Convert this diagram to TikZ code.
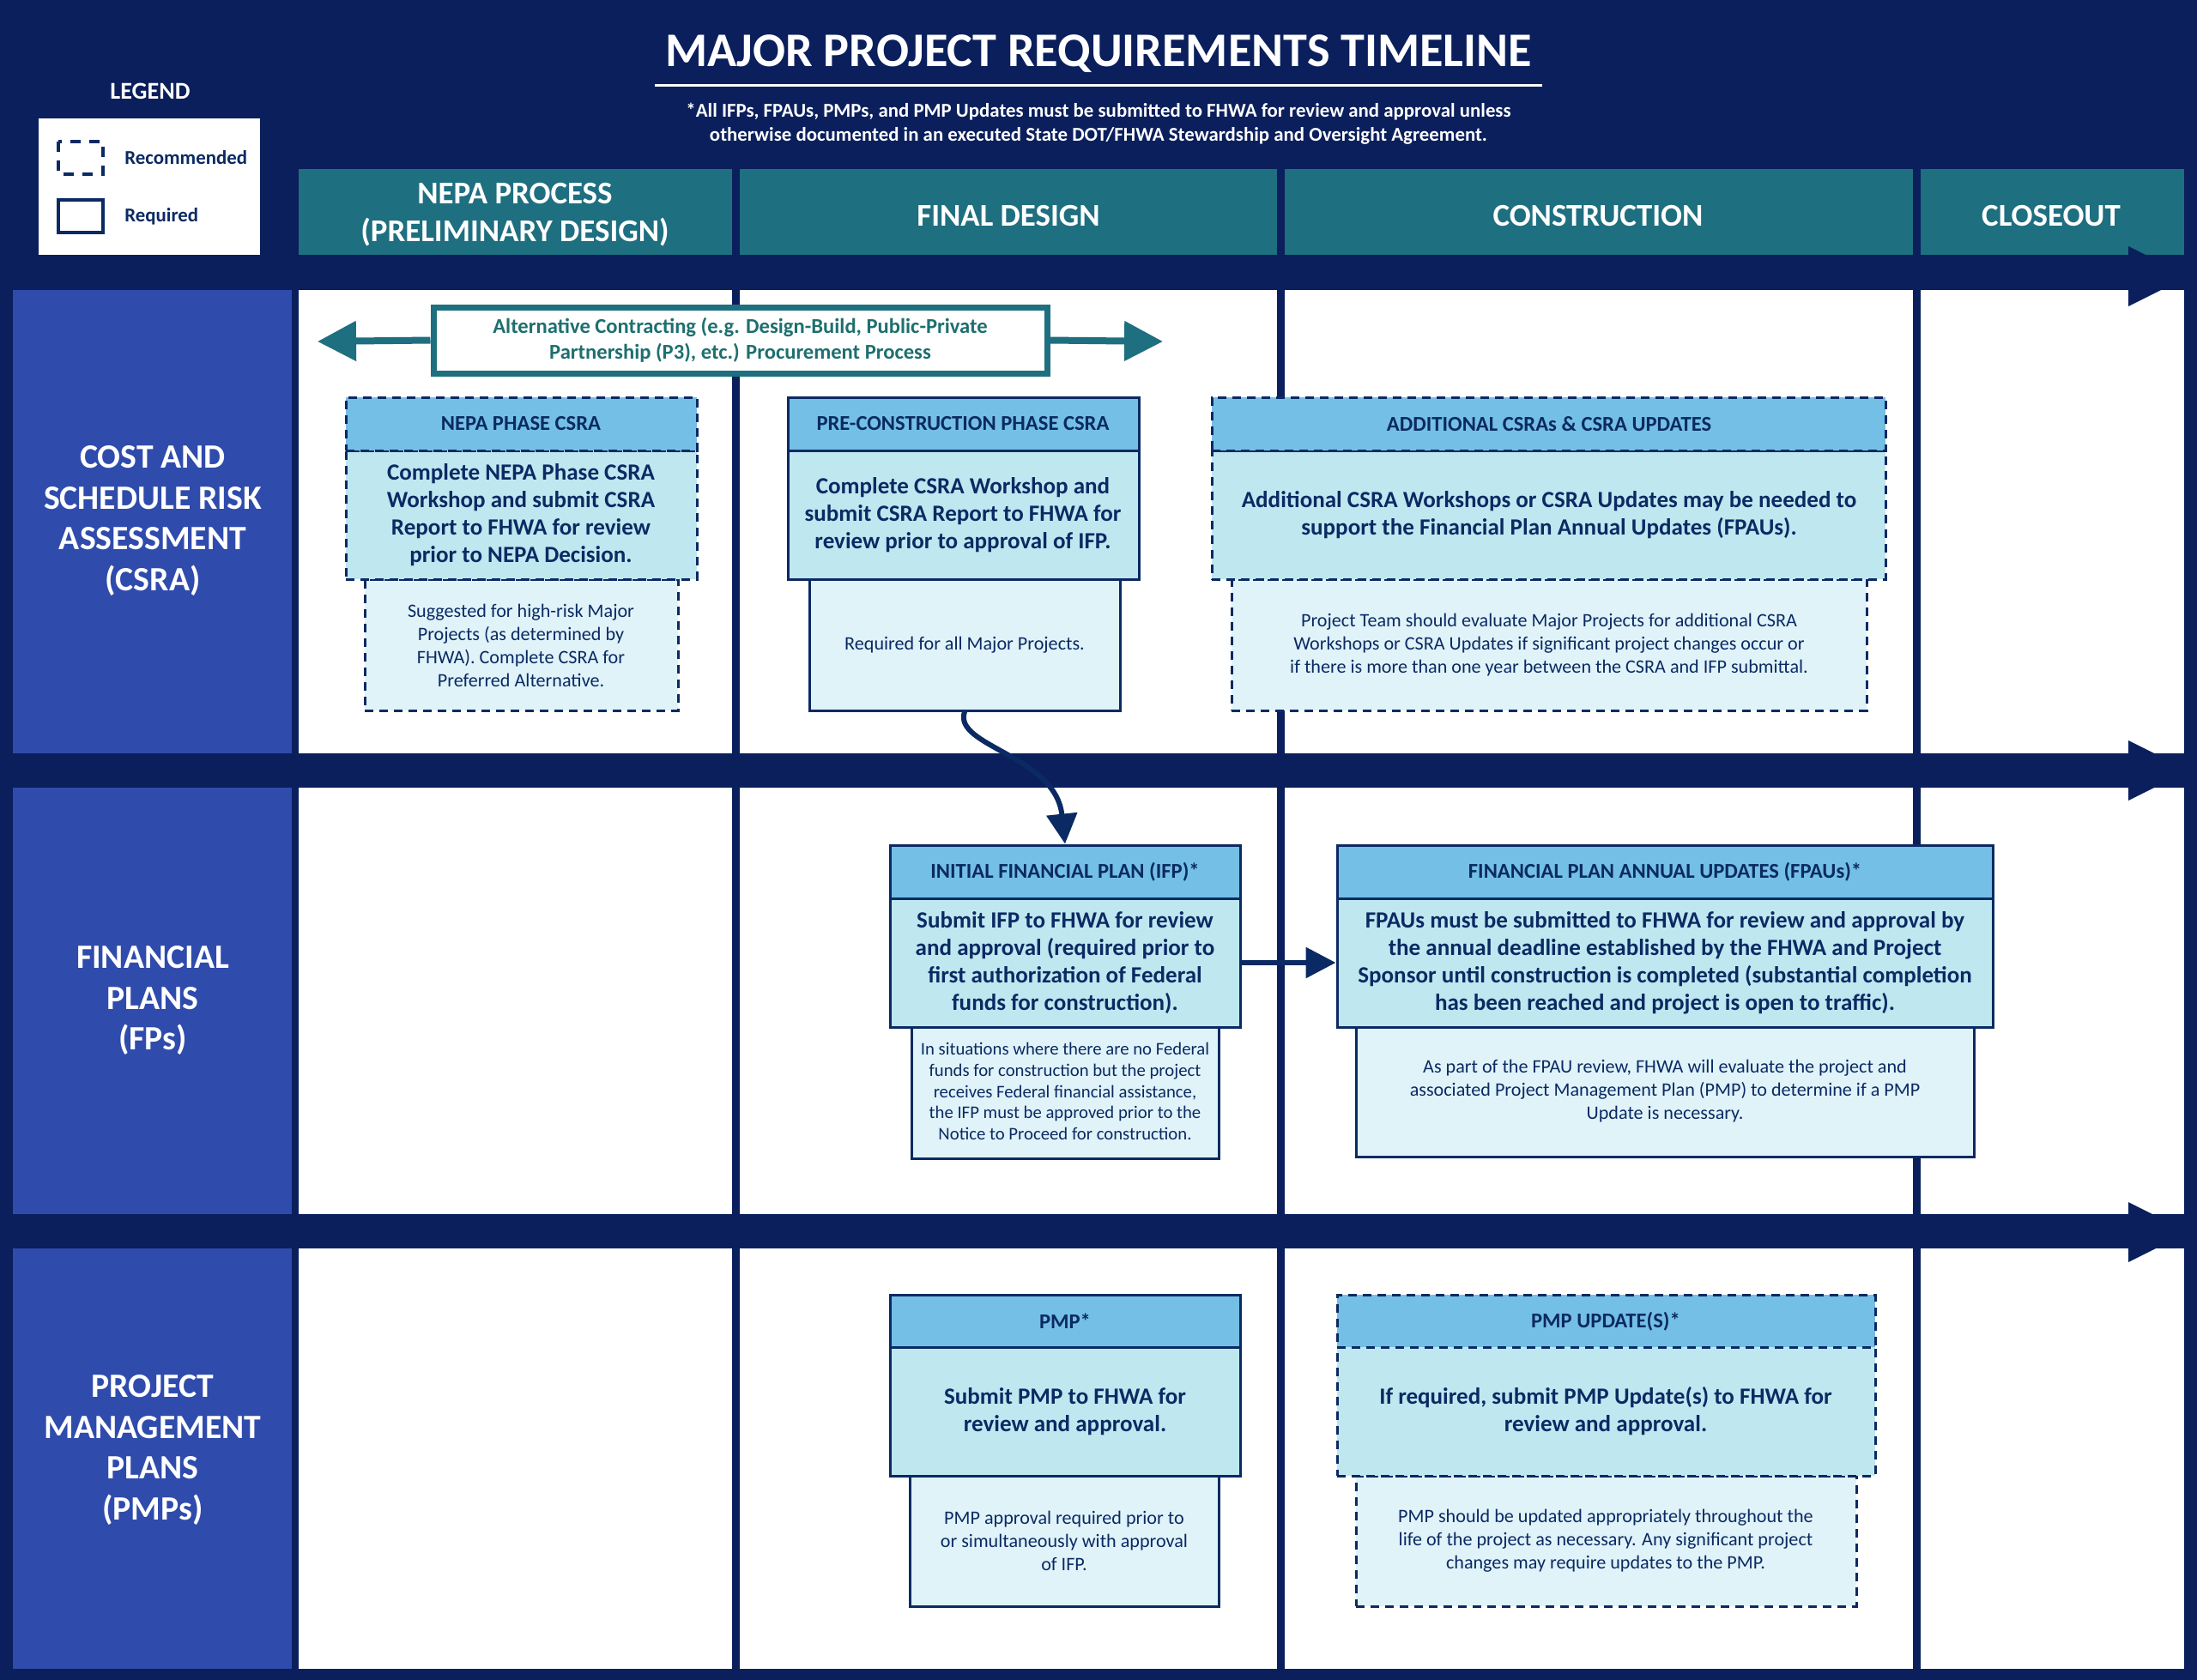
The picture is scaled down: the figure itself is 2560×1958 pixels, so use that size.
\documentclass[tikz,border=0pt]{standalone}
\usepackage{fontspec}
\setmainfont{Carlito}
\usetikzlibrary{fit,arrows.meta}
\definecolor{navy}{HTML}{0A1F5C}
\definecolor{teal}{HTML}{1E6F80}
\definecolor{rowblue}{HTML}{2F4BAC}
\definecolor{bord}{HTML}{0B2A63}
\definecolor{hdrc}{HTML}{74BFE6}
\definecolor{bodyc}{HTML}{BFE7F0}
\definecolor{notec}{HTML}{E0F3F9}
\definecolor{tealtxt}{HTML}{1E6F6F}
\tikzset{
 bx/.style={draw=bord,line width=0.3mm,inner sep=0pt,align=center,text=bord},
 dsh/.style={dash pattern=on 1mm off 0.7mm},
 hdrbox/.style={bx,fill=hdrc,font=\fontsize{7}{8.4}\selectfont\bfseries},
 bodybox/.style={bx,fill=bodyc,font=\fontsize{7.7}{9.1}\selectfont\bfseries},
 notebox/.style={bx,fill=notec,font=\fontsize{6.3}{7.7}\selectfont},
 collab/.style={text=white,font=\fontsize{10.5}{12.5}\selectfont\bfseries,align=center},
 rowlab/.style={text=white,font=\fontsize{11.3}{13.6}\selectfont\bfseries,align=center},
 cell/.style={fill=white},
}
\begin{document}
\begin{tikzpicture}[x=0.1mm,y=-0.1mm]
\fill[navy] (0,0) rectangle (2560,1958);
\useasboundingbox (0,0) rectangle (2560,1958);
% title
\node[text=white,font=\fontsize{16}{19}\selectfont\bfseries] (title) at (1280,63) {MAJOR PROJECT REQUIREMENTS TIMELINE};
\draw[white,line width=0.3mm] ([yshift=-0.2mm]title.south west) -- ([yshift=-0.2mm]title.south east);
\node[text=white,font=\fontsize{6.5}{8}\selectfont\bfseries,align=center] (sub) at (1280,144) {*All IFPs, FPAUs, PMPs, and PMP Updates must be submitted to FHWA for review and approval unless\\otherwise documented in an executed State DOT/FHWA Stewardship and Oversight Agreement.};
% legend
\node[text=white,font=\fontsize{8}{9}\selectfont\bfseries] (leglab) at (175,106) {LEGEND};
\fill[white] (45,138) rectangle (303,297);
\draw[bord,line width=0.4mm,dash pattern=on 1.2mm off 1mm] (68,165) rectangle (120,203);
\node[text=bord,font=\fontsize{6.5}{8}\selectfont\bfseries,anchor=west] (lrec) at (133,184) {Recommended};
\draw[bord,line width=0.4mm] (68,233) rectangle (120,271);
\node[text=bord,font=\fontsize{6.5}{8}\selectfont\bfseries,anchor=west] (lreq) at (133,252) {Required};
% column headers
\fill[teal] (348,197) rectangle (853,297);
\fill[teal] (862,197) rectangle (1488,297);
\fill[teal] (1497,197) rectangle (2229,297);
\fill[teal] (2238,197) rectangle (2545,297);
\node[collab] (c1) at (600,250) {NEPA PROCESS\\(PRELIMINARY DESIGN)};
\node[collab] (c2) at (1175,252) {FINAL DESIGN};
\node[collab] (c3) at (1862,252) {CONSTRUCTION};
\node[collab] (c4) at (2390,252) {CLOSEOUT};
% row labels
\fill[rowblue] (15,338) rectangle (340,878);
\fill[rowblue] (15,918) rectangle (340,1415);
\fill[rowblue] (15,1455) rectangle (340,1945);
\node[rowlab] (r1) at (178,607) {COST AND\\SCHEDULE RISK\\ASSESSMENT\\(CSRA)};
\node[rowlab] (r2) at (178,1166) {FINANCIAL\\PLANS\\(FPs)};
\node[rowlab] (r3) at (178,1690) {PROJECT\\MANAGEMENT\\PLANS\\(PMPs)};
% cells
\foreach \ya/\yb in {338/878,918/1415,1455/1945}{
 \foreach \xa/\xb in {348/853,862/1488,1497/2229,2238/2545}{
  \fill[cell] (\xa,\ya) rectangle (\xb,\yb);}}
% arrow heads
\foreach \y in {322,898,1436}{
 \fill[navy] (2480,\y-35) -- (2550,\y) -- (2480,\y+35) -- cycle;}
\fill[navy] (2490,297) rectangle (2545,310);
% alt contracting
\node[draw=teal,line width=0.7mm,fill=white,inner sep=0pt,fit={(505,358) (1220,435)}] (alt) {};
\node[text=tealtxt,align=center,font=\fontsize{7}{8.4}\selectfont\bfseries] (alttxt) at (alt.center) {Alternative Contracting (e.g. Design-Build, Public-Private\\Partnership (P3), etc.) Procurement Process};
\coordinate (altL) at (370,398);
\coordinate (altR) at (1355,398);
\draw[teal,line width=0.8mm,-{Triangle[length=4.5mm,width=4.5mm]}] (alt.west) -- (altL);
\draw[teal,line width=0.8mm,-{Triangle[length=4.5mm,width=4.5mm]}] (alt.east) -- (altR);
% NEPA CSRA
\node[notebox,dsh,fit={(425,675) (790,828)}] (n1) {};
\node[notebox,draw=none,fill=none] (n1t) at (607,752) {Suggested for high-risk Major\\Projects (as determined by\\FHWA). Complete CSRA for\\Preferred Alternative.};
\node[bodybox,dsh,fit={(403,525) (812,675)}] (b1) {};
\node[bodybox,draw=none,fill=none] (b1t) at (607,600) {Complete NEPA Phase CSRA\\Workshop and submit CSRA\\Report to FHWA for review\\prior to NEPA Decision.};
\node[hdrbox,dsh,fit={(403,463) (812,525)}] (h1) {};
\node[hdrbox,draw=none,fill=none] (h1t) at (607,494) {NEPA PHASE CSRA};
% Pre-construction
\node[notebox,fit={(943,675) (1305,828)}] (n2) {};
\node[notebox,draw=none,fill=none] (n2t) at (1124,752) {Required for all Major Projects.};
\node[bodybox,fit={(918,525) (1327,675)}] (b2) {};
\node[bodybox,draw=none,fill=none] (b2t) at (1122,600) {Complete CSRA Workshop and\\submit CSRA Report to FHWA for\\review prior to approval of IFP.};
\node[hdrbox,fit={(918,463) (1327,525)}] (h2) {};
\node[hdrbox,draw=none,fill=none] (h2t) at (1122,494) {PRE-CONSTRUCTION PHASE CSRA};
% Additional
\node[notebox,dsh,fit={(1435,675) (2175,828)}] (n3) {};
\node[notebox,draw=none,fill=none] (n3t) at (1805,752) {Project Team should evaluate Major Projects for additional CSRA\\Workshops or CSRA Updates if significant project changes occur or\\if there is more than one year between the CSRA and IFP submittal.};
\node[bodybox,dsh,fit={(1412,525) (2197,675)}] (b3) {};
\node[bodybox,draw=none,fill=none] (b3t) at (1805,600) {Additional CSRA Workshops or CSRA Updates may be needed to\\support the Financial Plan Annual Updates (FPAUs).};
\node[hdrbox,dsh,fit={(1412,463) (2197,525)}] (h3) {};
\node[hdrbox,draw=none,fill=none] (h3t) at (1805,494) {ADDITIONAL CSRAs \& CSRA UPDATES};
% IFP
\node[notebox,fit={(1062,1197) (1420,1350)}] (n4) {};
\node[notebox,draw=none,fill=none,font=\fontsize{5.9}{7}\selectfont] (n4t) at (1241,1272) {In situations where there are no Federal\\funds for construction but the project\\receives Federal financial assistance,\\the IFP must be approved prior to the\\Notice to Proceed for construction.};
\node[bodybox,fit={(1037,1047) (1445,1197)}] (b4) {};
\node[bodybox,draw=none,fill=none] (b4t) at (1241,1122) {Submit IFP to FHWA for review\\and approval (required prior to\\first authorization of Federal\\funds for construction).};
\node[hdrbox,fit={(1037,985) (1445,1047)}] (h4) {};
\node[hdrbox,draw=none,fill=none] (h4t) at (1241,1016) {INITIAL FINANCIAL PLAN (IFP)*};
% FPAU
\node[notebox,fit={(1580,1197) (2300,1348)}] (n5) {};
\node[notebox,draw=none,fill=none] (n5t) at (1940,1272) {As part of the FPAU review, FHWA will evaluate the project and\\associated Project Management Plan (PMP) to determine if a PMP\\Update is necessary.};
\node[bodybox,fit={(1558,1047) (2322,1197)}] (b5) {};
\node[bodybox,draw=none,fill=none] (b5t) at (1940,1122) {FPAUs must be submitted to FHWA for review and approval by\\the annual deadline established by the FHWA and Project\\Sponsor until construction is completed (substantial completion\\has been reached and project is open to traffic).};
\node[hdrbox,fit={(1558,985) (2322,1047)}] (h5) {};
\node[hdrbox,draw=none,fill=none] (h5t) at (1940,1016) {FINANCIAL PLAN ANNUAL UPDATES (FPAUs)*};
% PMP
\node[notebox,fit={(1060,1720) (1420,1872)}] (n6) {};
\node[notebox,draw=none,fill=none] (n6t) at (1240,1796) {PMP approval required prior to\\or simultaneously with approval\\of IFP.};
\node[bodybox,fit={(1037,1570) (1445,1720)}] (b6) {};
\node[bodybox,draw=none,fill=none] (b6t) at (1241,1645) {Submit PMP to FHWA for\\review and approval.};
\node[hdrbox,fit={(1037,1509) (1445,1570)}] (h6) {};
\node[hdrbox,draw=none,fill=none] (h6t) at (1241,1540) {PMP*};
% PMP update
\node[notebox,dsh,fit={(1580,1720) (2163,1872)}] (n7) {};
\node[notebox,draw=none,fill=none] (n7t) at (1871,1796) {PMP should be updated appropriately throughout the\\life of the project as necessary. Any significant project\\changes may require updates to the PMP.};
\node[bodybox,dsh,fit={(1558,1570) (2185,1720)}] (b7) {};
\node[bodybox,draw=none,fill=none] (b7t) at (1871,1645) {If required, submit PMP Update(s) to FHWA for\\review and approval.};
\node[hdrbox,dsh,fit={(1558,1509) (2185,1570)}] (h7) {};
\node[hdrbox,draw=none,fill=none] (h7t) at (1871,1540) {PMP UPDATE(S)*};
% connectors
\draw[bord,line width=0.6mm,-{Triangle[length=3.5mm,width=3.5mm]}] (n2.south) .. controls (1110,870) and (1230,880) .. (h4.north);
\draw[bord,line width=0.6mm,-{Triangle[length=3.5mm,width=3.5mm]}] (b4.east) -- (b5.west);
\end{tikzpicture}
\end{document}
